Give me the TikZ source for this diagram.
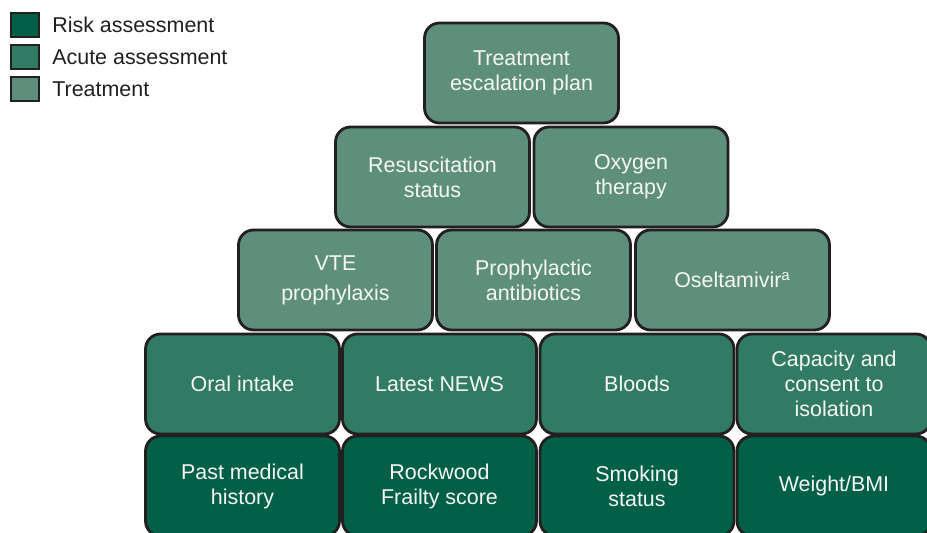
\documentclass[tikz,border=0pt]{standalone}
\usepackage{fontspec}
\setmainfont{Liberation Sans}
\definecolor{RiskClr}{RGB}{0,96,70}
\definecolor{AcuteClr}{RGB}{49,122,99}
\definecolor{TreatClr}{RGB}{94,143,124}
\definecolor{EdgeClr}{RGB}{35,31,32}
\definecolor{LabelClr}{RGB}{246,246,244}

\begin{document}
\begin{tikzpicture}[x=0.02cm,y=-0.02cm,
  block/.style={draw=EdgeClr,line width=1.6pt,rounded corners=0.3cm,
    minimum width=3.88cm,minimum height=2cm,inner sep=0pt,align=center,
    text=LabelClr,font=\fontsize{12.2}{14.2}\selectfont},
  risk/.style={block,fill=RiskClr},
  acute/.style={block,fill=AcuteClr},
  treat/.style={block,fill=TreatClr},
  keybox/.style={draw=EdgeClr,line width=1.6pt,minimum width=0.56cm,
    minimum height=0.48cm,inner sep=0pt},
  keytext/.style={anchor=west,inner sep=0pt,text=EdgeClr,
    font=\fontsize{12.2}{14.2}\selectfont}]
\useasboundingbox (0,0) rectangle (927,533);
\clip (0,0) rectangle (927,533);

\node[keybox,fill=RiskClr] (kRisk) at (25,25) {};
\node[keybox,fill=AcuteClr] (kAcute) at (25,57) {};
\node[keybox,fill=TreatClr] (kTreat) at (25,89) {};
\node[keytext] (tRisk) at (52,25) {Risk assessment};
\node[keytext] (tAcute) at (52,57) {Acute assessment};
\node[keytext] (tTreat) at (52,89) {Treatment};

\node[treat] (escal) at (521.5,73) {Treatment\\escalation plan};

\node[treat] (resus) at (432.5,177) {Resuscitation\\status};
\node[treat] (oxygen) at (631,177) {Oxygen\\therapy};

\node[treat] (vte) at (335.5,280) {VTE\\[3pt]prophylaxis};
\node[treat] (antib) at (533.5,280) {Prophylactic\\antibiotics};
\node[treat] (oselt) at (732.5,280) {Oseltamivir\textsuperscript{a}};

\node[acute] (oral) at (242.5,384) {Oral intake};
\node[acute] (news) at (439.5,384) {Latest NEWS};
\node[acute] (bloods) at (637,384) {Bloods};
\node[acute] (consent) at (834,384) {Capacity and\\consent to\\isolation};

\node[risk] (pmh) at (242.5,486) {Past medical\\history};
\node[risk] (frail) at (439.5,486) {Rockwood\\Frailty score};
\node[risk] (smoke) at (637,486) {Smoking\\status};
\node[risk] (bmi) at (834,486) {Weight/BMI};
\end{tikzpicture}
\end{document}
